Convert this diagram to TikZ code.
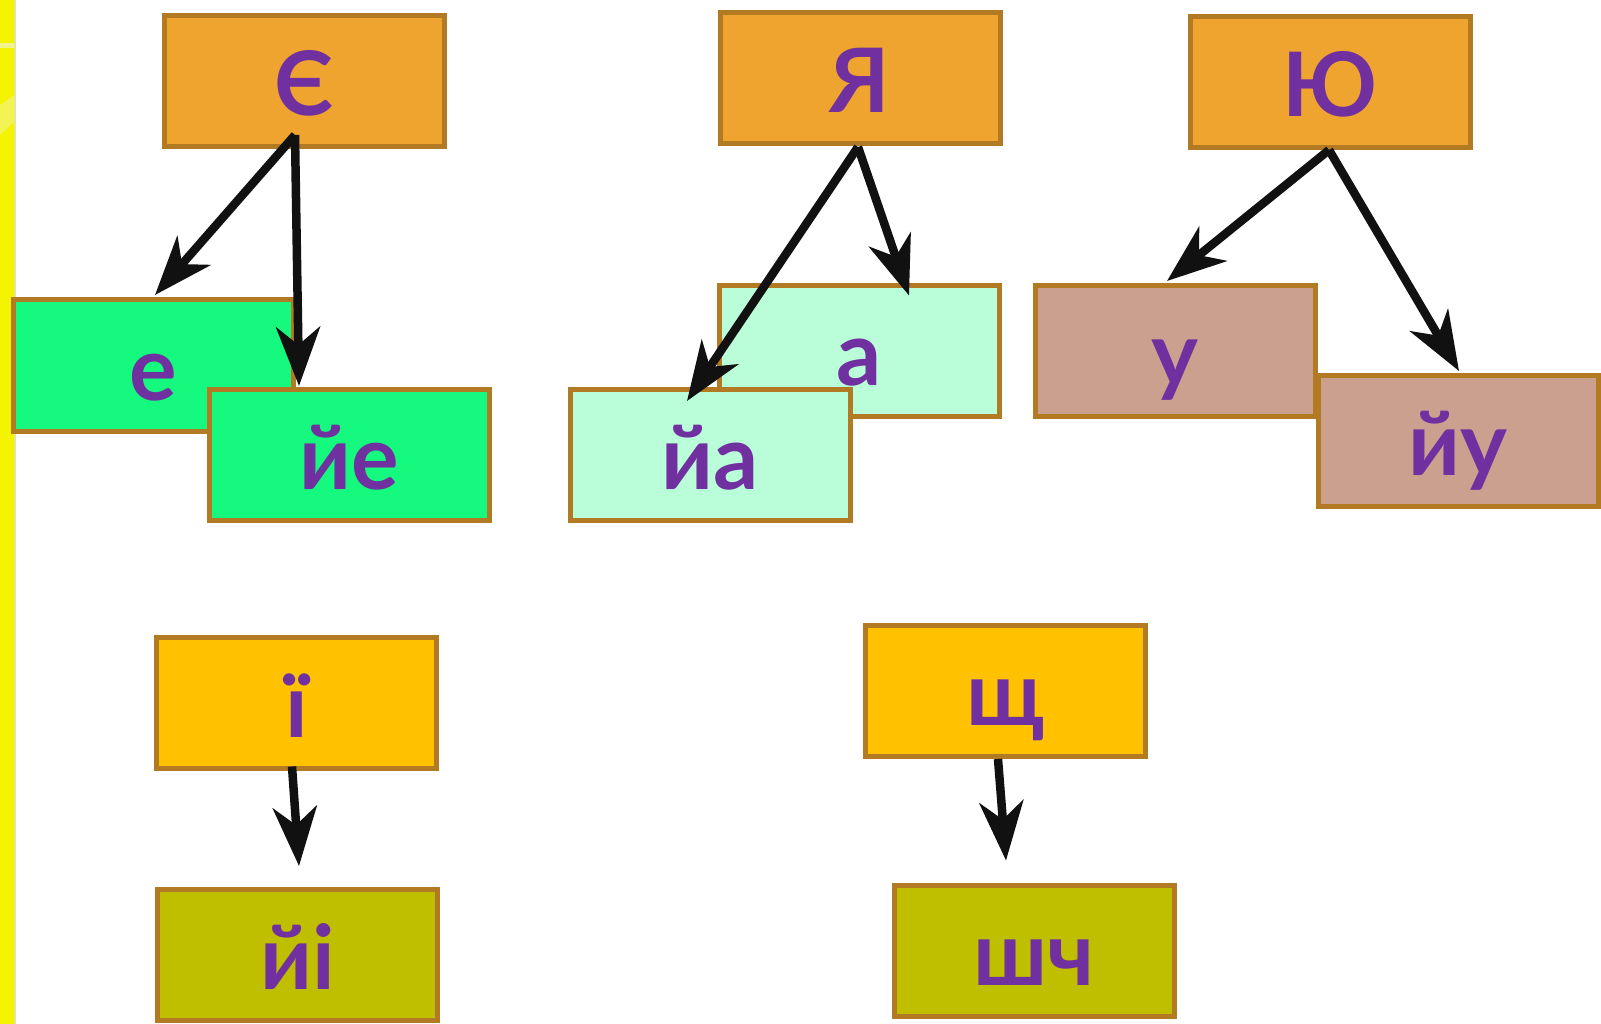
\documentclass[tikz,border=0pt]{standalone}
\usepackage{fontspec}
\setmainfont{Lato}
\usetikzlibrary{arrows.meta}
\definecolor{bord}{HTML}{B17A23}
\definecolor{orangefill}{HTML}{EFA430}
\definecolor{greenfill}{HTML}{16F97F}
\definecolor{mintfill}{HTML}{BAFDD9}
\definecolor{tanfill}{HTML}{CBA08F}
\definecolor{goldfill}{HTML}{FFC100}
\definecolor{olivefill}{HTML}{BFBF00}
\definecolor{txt}{HTML}{7030A0}
\definecolor{arrowcol}{HTML}{111111}
\definecolor{stripyellow}{HTML}{F4F400}
\definecolor{stripedge}{HTML}{E6E69A}
\definecolor{stripband}{HTML}{F3F38C}
\begin{document}
\begin{tikzpicture}[x=1pt,y=-1pt,
  box/.style={draw=bord, line width=5pt, minimum width=280pt, minimum height=131pt,
    inner sep=0pt, text height=69pt, text depth=0pt, text=txt,
    font=\fontsize{89}{92}\selectfont\bfseries},
  arr/.style={draw=arrowcol, line width=8.5pt,
    -{Stealth[length=59pt,width=44pt,inset=18pt]}}]
\useasboundingbox (0,0) rectangle (1601,1024);
\fill[white] (0,0) rectangle (1601,1024);
% left strip
\fill[stripyellow] (0,0) rectangle (14,1024);
\fill[stripedge] (13.5,0) rectangle (15.5,1024);
\fill[stripband] (0,43) rectangle (14,48);
\fill[stripband, opacity=0.6] (0,105) -- (14,95) -- (14,122) -- (0,135) -- cycle;
% top row
\node[box, fill=orangefill] (E)  at (304.5,81)  {Є};
\node[box, fill=orangefill] (Ya) at (860,78.5)  {Я};
\node[box, fill=orangefill] (Yu) at (1330,82)   {Ю};
% middle row
\node[box, fill=greenfill] (e)  at (153.5,365.5) {е};
\node[box, fill=greenfill] (ye) at (349,455)     {йе};
\node[box, fill=mintfill]  (a)  at (859,351)     {а};
\node[box, fill=mintfill]  (ya) at (710,455)     {йа};
\node[box, fill=tanfill]   (u)  at (1175,351)    {у};
\node[box, fill=tanfill]   (yu) at (1458,441)    {йу};
% bottom rows
\node[box, fill=goldfill]  (yi)    at (296.5,702.5) {ї};
\node[box, fill=goldfill]  (shch)  at (1005.5,690.5) {щ};
\node[box, fill=olivefill] (yii)   at (297.5,955)   {йі};
\node[box, fill=olivefill] (shchb) at (1034,950.5)  {шч};
% arrows
\draw[arr] ([shift={(-9.5,-14)}]E.south) -- ([shift={(1.5,-2.5)}]e.north);
\draw[arr] ([shift={(-9.5,-14)}]E.south) -- ([shift={(-50,-1)}]ye.north);
\draw[arr] ([shift={(-2,0.5)}]Ya.south) -- ([shift={(-23,14)}]ya.north);
\draw[arr] ([shift={(-2,0.5)}]Ya.south) -- ([shift={(50,12.5)}]a.north);
\draw[arr] ([shift={(-1,0)}]Yu.south) -- ([shift={(-8,-2)}]u.north);
\draw[arr] ([shift={(-1,0)}]Yu.south) -- ([shift={(1,-2)}]yu.north);
\draw[arr] ([shift={(-4.5,-4)}]yi.south) -- ([shift={(1.5,-21)}]yii.north);
\draw[arr] ([shift={(-7.5,0.5)}]shch.south) -- ([shift={(-28,-22)}]shchb.north);
\end{tikzpicture}
\end{document}
